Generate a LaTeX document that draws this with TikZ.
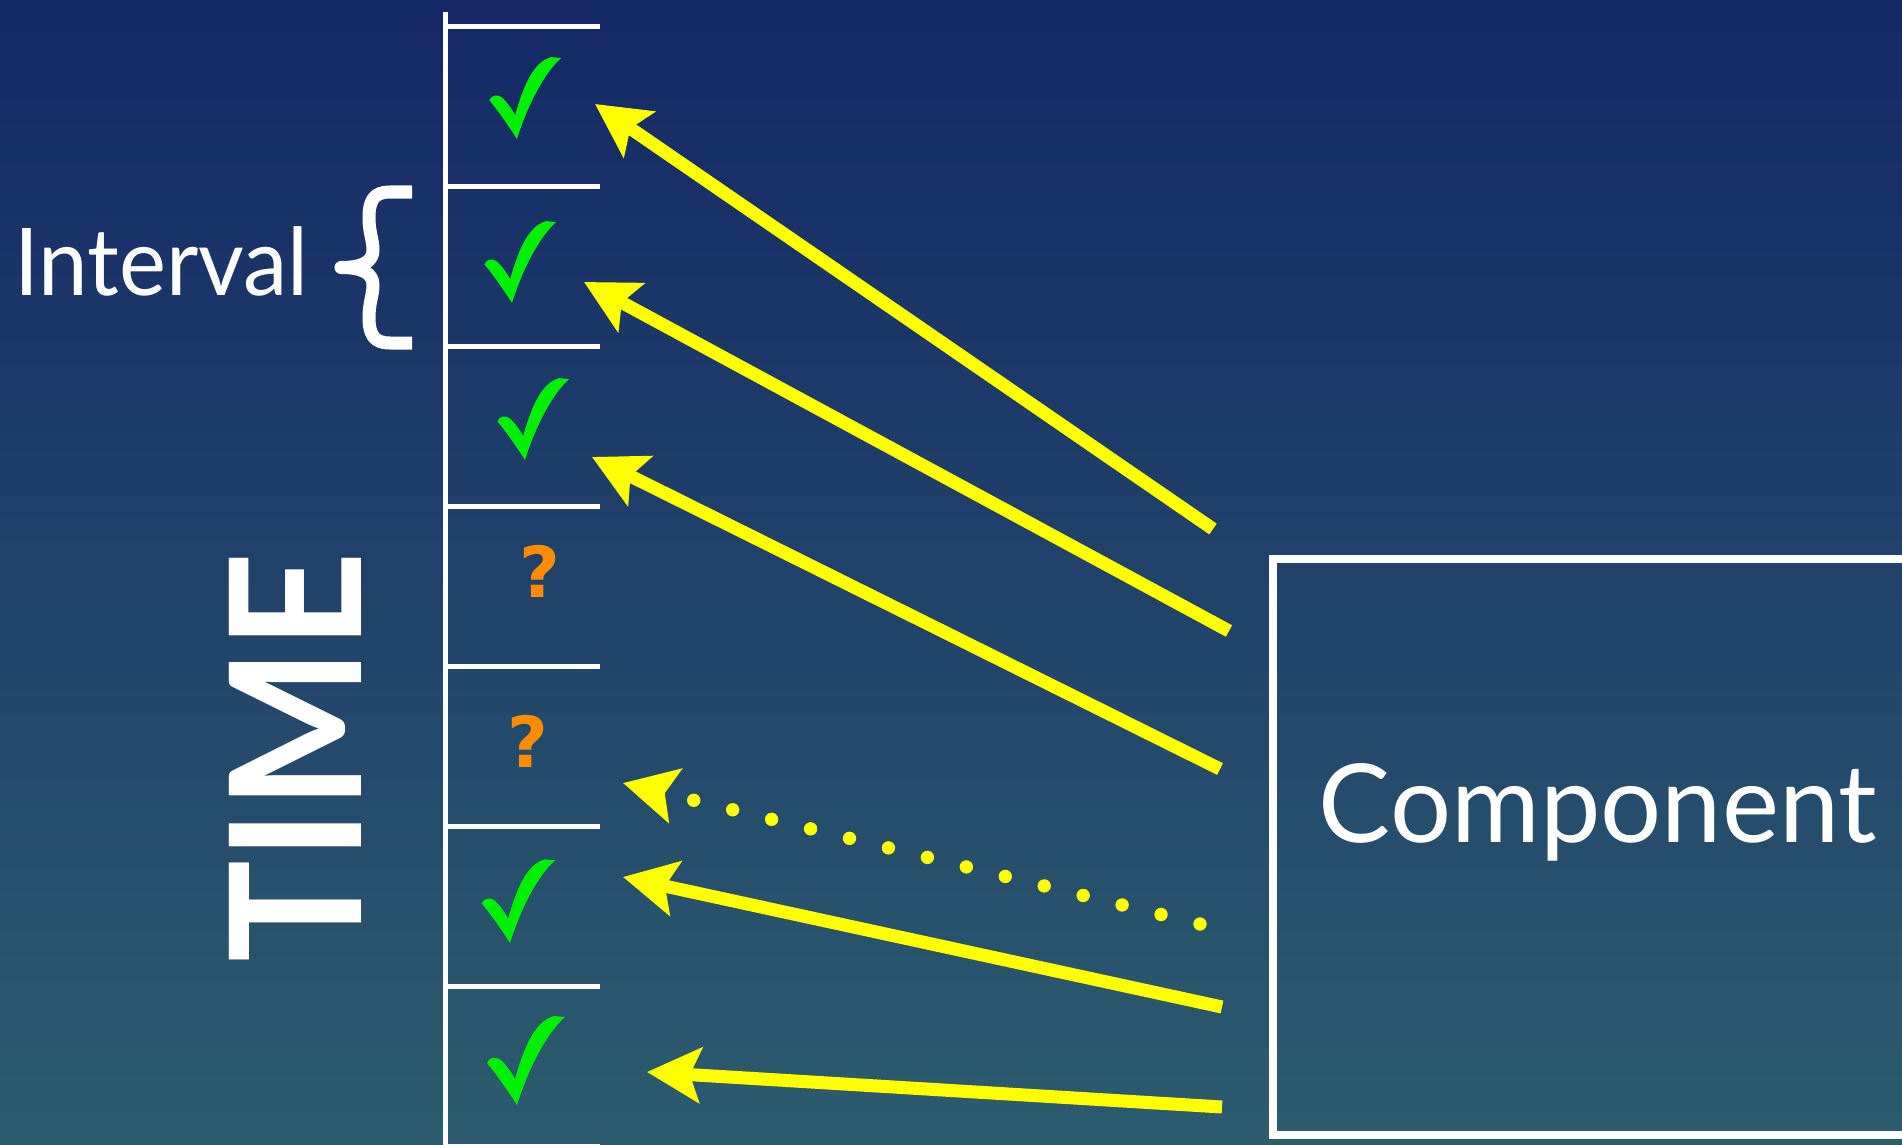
\documentclass[tikz,border=0pt]{standalone}
\usepackage{fontspec}
\setmainfont{Lato}
\newfontfamily\qfont{DejaVu Sans}
\usetikzlibrary{arrows.meta}
\definecolor{bgtop}{RGB}{20,40,102}
\definecolor{bgbot}{RGB}{44,92,110}
\definecolor{chkgreen}{RGB}{0,240,0}
\definecolor{qorange}{RGB}{255,140,0}
\definecolor{ayellow}{RGB}{255,255,0}
\tikzset{
  axisline/.style={draw=white, line width=1.42pt},
  bracestyle/.style={draw=white, line width=3.7pt, line join=round},
  compbox/.style={draw=white, line width=2.28pt, minimum width=6.87cm, minimum height=5.76cm, inner sep=0pt},
  yarrow/.style={draw=ayellow, line width=3.7pt, -{Stealth[length=15.2pt,width=15.6pt,inset=3pt]}},
  ydots/.style={draw=ayellow, line width=3.8pt, line cap=round, dash pattern=on 0pt off 11.4pt, -{Stealth[length=15.2pt,width=15.6pt,inset=3pt]}},
  qmark/.style={text=qorange, inner sep=0pt, font=\qfont\bfseries\fontsize{20}{24}\selectfont},
  whitetext/.style={text=white, inner sep=0pt},
  check/.pic={\fill[chkgreen] (0,0) .. controls (-9,-14) and (-20,-30) .. (-30,-42)
      .. controls (-28,-48) and (-21,-49) .. (-16,-45)
      .. controls (-10,-39) and (-5,-32) .. (-2,-26)
      .. controls (7,-58) and (18,-84) .. (37,-89)
      -- (48,-88)
      .. controls (30,-72) and (12,-38) .. (0,0) -- cycle;}
}
\begin{document}
\begin{tikzpicture}[x=0.01cm,y=-0.01cm]
\clip (0,0) rectangle (1902,1145);
\shade[top color=bgtop, bottom color=bgbot] (0,0) rectangle (1902,1145);

% time axis
\draw[axisline] (445,12) -- (445,1150);
\foreach \k in {0,...,7}{
  \draw[axisline] (445,26.7+160*\k) -- (600,26.7+160*\k);
}

% brace
\draw[bracestyle] (412,192) -- (390,192) .. controls (374,192) and (369,200) .. (369,218)
  .. controls (369,232) and (373,240) .. (373,250)
  .. controls (373,262) and (362,267.5) .. (341,267.5)
  .. controls (362,267.5) and (373,273) .. (373,285)
  .. controls (373,295) and (369,303) .. (369,317)
  .. controls (369,335) and (374,343) .. (390,343) -- (412,343);

% labels
\node[whitetext, anchor=base east, font=\fontsize{26.6}{30}\selectfont] (interval) at (309,295) {\scalebox{0.95}[1]{Interval}};
\node[whitetext, rotate=90, font=\bfseries\fontsize{52}{60}\selectfont] (time) at (295,757) {\scalebox{0.93}[1]{TIME}};

% checks and question marks
\pic[scale=0.92] (c1) at (517,139) {check};
\pic[scale=0.92] (c2) at (512,303) {check};
\pic[scale=0.92] (c3) at (525,460) {check};
\node[qmark] (q1) at (539.5,571) {?};
\node[qmark] (q2) at (527.5,741) {?};
\pic[scale=0.94] (c6) at (510,943) {check};
\pic (c7) at (517,1105) {check};

% component
\node[compbox] (comp) at (1616.5,847) {};
\node[whitetext, anchor=base, font=\fontsize{31}{36}\selectfont] (complabel) at (1598,842) {\scalebox{0.99}[1]{Component}};

% arrow end points
\coordinate (t1) at (1213,529);  \coordinate (h1) at (595,104);
\coordinate (t2) at (1229,631);  \coordinate (h2) at (584,282);
\coordinate (t3) at (1220,769);  \coordinate (h3) at (592,457);
\coordinate (t4) at (1200,924);  \coordinate (h4) at (623,783);
\coordinate (t5) at (1222,1007); \coordinate (h5) at (623,877);
\coordinate (t6) at (1222,1107); \coordinate (h6) at (647,1072);

\draw[yarrow] (t1) -- (h1);
\draw[yarrow] (t2) -- (h2);
\draw[yarrow] (t3) -- (h3);
\draw[ydots] (t4) -- (h4);
\draw[yarrow] (t5) -- (h5);
\draw[yarrow] (t6) -- (h6);
\end{tikzpicture}
\end{document}
